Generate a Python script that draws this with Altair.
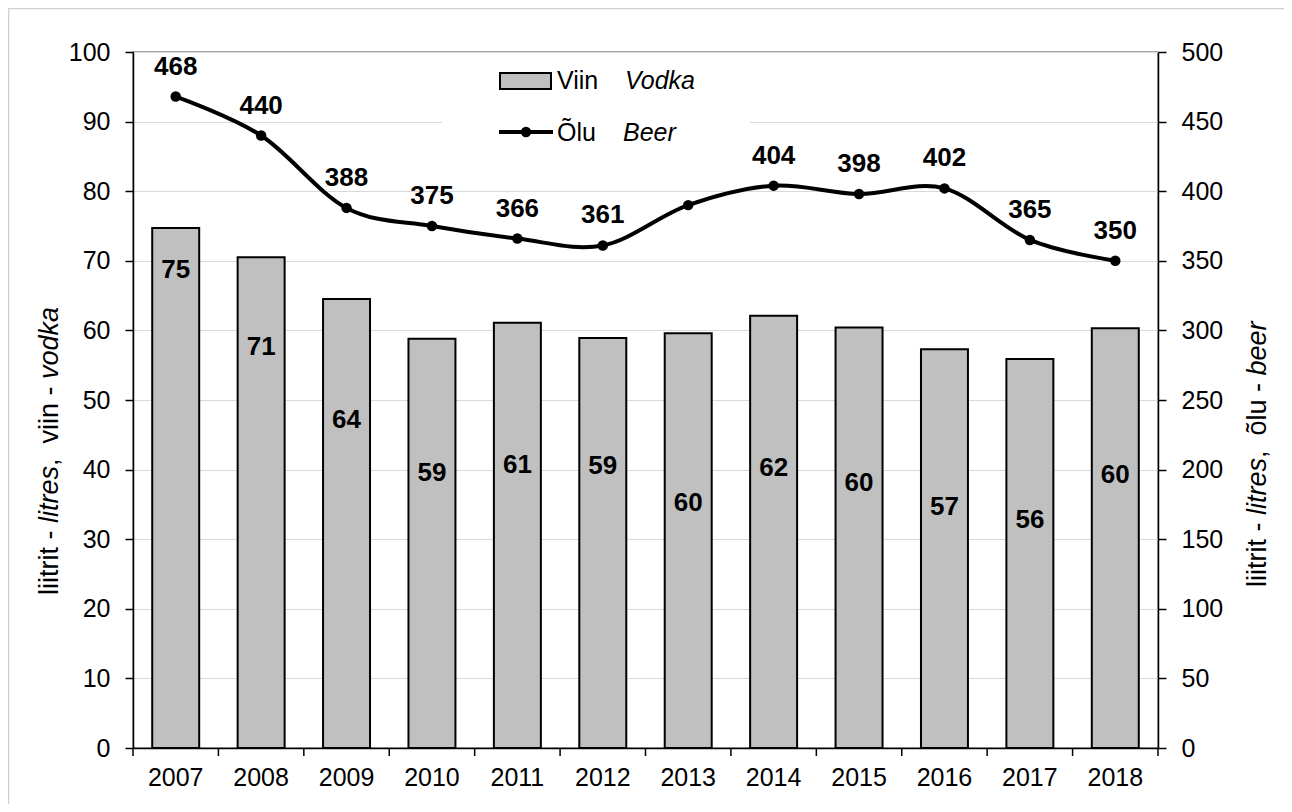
import altair as alt
import pandas as pd

# ---------------- data ----------------
years = ["2007", "2008", "2009", "2010", "2011", "2012",
         "2013", "2014", "2015", "2016", "2017", "2018"]
vodka = [74.7, 70.5, 64.5, 58.8, 61.1, 58.9, 59.6, 62.1, 60.4, 57.3, 55.9, 60.3]
vodka_labels = ["75", "71", "64", "59", "61", "59", "60", "62", "60", "57", "56", "60"]
vodka_label_at = [68.7, 57.6, 47.1, 39.5, 40.7, 40.5, 35.2, 40.2, 38.1, 34.6, 32.8, 39.2]
beer = [468, 440, 388, 375, 366, 361, 390, 404, 398, 402, 365, 350]
beer_labels = ["468", "440", "388", "375", "366", "361", "", "404", "398", "402", "365", "350"]

left_title = [("liitrit", False), (" -", False), (" litres", True), (",", False),
              ("  viin", False), (" -", False), (" vodka", True)]
right_title = [("liitrit", False), (" -", False), (" litres", True), (",", False),
               ("  õlu", False), (" -", False), (" beer", True)]

df = pd.DataFrame({
    "year": years, "vodka": vodka, "vlabel": vodka_labels, "vlabel_at": vodka_label_at,
    "beer": beer, "blabel": beer_labels,
})

W, H = 1025, 696
FONT = "Liberation Sans"
TICK_FS = 25
LABEL_FS = 26
TITLE_FS = 27
GRAY = "#C0C0C0"

# Arial / Liberation Sans advance widths (em)
CW = {'l': .222, 'i': .222, 't': .278, 'r': .333, ' ': .278, '-': .333, 'e': .556,
      's': .5, ',': .278, 'v': .5, 'n': .556, 'o': .556, 'd': .556, 'k': .5,
      'a': .556, 'õ': .556, 'u': .556, 'b': .556}


def tw(s, size):
    return sum(CW.get(c, .556) for c in s) * size


def title_rows(pieces, x, y_bottom, size):
    rows = []
    cum = 0.0
    for text, ital in pieces:
        lead = len(text) - len(text.lstrip())
        start = cum + tw(text[:lead], size)
        rows.append({"t": text.strip(), "ital": ital, "px": x, "py": y_bottom - start})
        cum += tw(text, size)
    return pd.DataFrame(rows)


# ---------------- scales / axes ----------------
xscale = alt.Scale(paddingInner=0, paddingOuter=0)
xaxis = alt.Axis(title=None, ticks=False, labelAngle=0, labelFont=FONT,
                 labelFontSize=TICK_FS, labelColor="black", labelPadding=17,
                 domainColor="black", domainWidth=1.5, grid=False)
X = alt.X("year:N", sort=None, scale=xscale, axis=xaxis)

yl_scale = alt.Scale(domain=[0, 100], nice=False)
yl_axis = alt.Axis(title=None, orient="left", values=list(range(0, 101, 10)),
                   labelFont=FONT, labelFontSize=TICK_FS, labelColor="black",
                   labelPadding=15, tickSize=8, tickColor="black", tickWidth=1.5,
                   domainColor="black", domainWidth=1.5,
                   grid=True, gridColor="#D9D9D9", gridWidth=1)
yr_scale = alt.Scale(domain=[0, 500], nice=False)
yr_axis = alt.Axis(title=None, orient="right", values=list(range(0, 501, 50)),
                   labelFont=FONT, labelFontSize=TICK_FS, labelColor="black",
                   labelPadding=15, tickSize=8, tickColor="black", tickWidth=1.5,
                   domainColor="black", domainWidth=1.5, grid=False)

base = alt.Chart(df)

bars = base.mark_bar(fill=GRAY, stroke="black", strokeWidth=2,
                     width=alt.RelativeBandSize(0.55)).encode(
    x=X, y=alt.Y("vodka:Q", scale=yl_scale, axis=yl_axis))
bar_text = base.mark_text(font=FONT, fontSize=LABEL_FS, fontWeight="bold",
                          color="black", baseline="middle").encode(
    x=X, y=alt.Y("vlabel_at:Q", scale=yl_scale, axis=yl_axis), text="vlabel:N")
vodka_layer = alt.layer(bars, bar_text)

line = base.mark_line(color="black", strokeWidth=4, interpolate="cardinal").encode(
    x=X, y=alt.Y("beer:Q", scale=yr_scale, axis=yr_axis))
pts = base.mark_circle(color="black", size=110, opacity=1).encode(
    x=X, y=alt.Y("beer:Q", scale=yr_scale, axis=yr_axis))
beer_text = base.mark_text(font=FONT, fontSize=LABEL_FS, fontWeight="bold",
                           color="black", baseline="middle", dy=-30).encode(
    x=X, y=alt.Y("beer:Q", scale=yr_scale, axis=yr_axis), text="blabel:N")
beer_layer = alt.layer(line, pts, beer_text)

one = pd.DataFrame({"a": [0]})

# category boundary ticks on the x axis
x_ticks = base.mark_rule(color="black", strokeWidth=1.5).encode(
    x=alt.X("year:N", sort=None, scale=xscale, axis=xaxis, bandPosition=0),
    y=alt.value(H), y2=alt.value(H + 8))
x_tick_end = alt.Chart(one).mark_rule(color="black", strokeWidth=1.5).encode(
    x=alt.value(W), y=alt.value(H), y2=alt.value(H + 8))

# legend
leg_bg = alt.Chart(one).mark_rect(fill="white").encode(
    x=alt.value(309), x2=alt.value(617), y=alt.value(6), y2=alt.value(90))
leg_sw = alt.Chart(one).mark_rect(fill=GRAY, stroke="black", strokeWidth=2).encode(
    x=alt.value(367), x2=alt.value(418), y=alt.value(21), y2=alt.value(37))
leg_line = alt.Chart(one).mark_rule(color="black", strokeWidth=4).encode(
    x=alt.value(366), x2=alt.value(420), y=alt.value(80))
leg_dot = alt.Chart(one).mark_circle(color="black", size=110, opacity=1).encode(
    x=alt.value(393), y=alt.value(80))
leg_txt = pd.DataFrame({"t": ["Viin", "Õlu"], "px": [424, 424], "py": [29, 81]})
leg_itx = pd.DataFrame({"t": ["Vodka", "Beer"], "px": [492, 490], "py": [29, 81]})
leg_t1 = alt.Chart(leg_txt).mark_text(font=FONT, fontSize=TICK_FS, align="left",
                                      baseline="middle", color="black").encode(
    x=alt.X("px:Q", scale=None), y=alt.Y("py:Q", scale=None), text="t:N")
leg_t2 = alt.Chart(leg_itx).mark_text(font=FONT, fontSize=TICK_FS, align="left",
                                      baseline="middle", color="black",
                                      fontStyle="italic").encode(
    x=alt.X("px:Q", scale=None), y=alt.Y("py:Q", scale=None), text="t:N")

# axis titles (mixed regular / italic)
lt = title_rows(left_title, -83, 543, TITLE_FS)
rt = title_rows(right_title, 1125, 535, TITLE_FS)
tt = pd.concat([lt, rt], ignore_index=True)
t_norm = alt.Chart(tt[~tt.ital]).mark_text(font=FONT, fontSize=TITLE_FS, align="left",
                                           baseline="middle", angle=270, color="black").encode(
    x=alt.X("px:Q", scale=None), y=alt.Y("py:Q", scale=None), text="t:N")
t_ital = alt.Chart(tt[tt.ital]).mark_text(font=FONT, fontSize=TITLE_FS, align="left",
                                          baseline="middle", angle=270, color="black",
                                          fontStyle="italic").encode(
    x=alt.X("px:Q", scale=None), y=alt.Y("py:Q", scale=None), text="t:N")

# outer chart frame (top & left edges)
frame_top = alt.Chart(one).mark_rule(color="#CFCFCF", strokeWidth=1.5).encode(
    x=alt.value(-125), x2=alt.value(1151), y=alt.value(-43.5))
frame_left = alt.Chart(one).mark_rule(color="#CFCFCF", strokeWidth=1.5).encode(
    x=alt.value(-124.5), y=alt.value(-44), y2=alt.value(752))

chart = alt.layer(
    vodka_layer, beer_layer, x_ticks, x_tick_end,
    leg_bg, leg_sw, leg_line, leg_dot, leg_t1, leg_t2,
    t_norm, t_ital, frame_top, frame_left,
).resolve_scale(y="independent").properties(
    width=W, height=H,
    autosize=alt.AutoSizeParams(type="none"),
    padding={"left": 125, "top": 44, "right": 126, "bottom": 56},
    background="white",
).configure_view(stroke="#8C8C8C", strokeWidth=1.5)

chart.save("out.html", embed_options={"renderer": "svg", "actions": False})
